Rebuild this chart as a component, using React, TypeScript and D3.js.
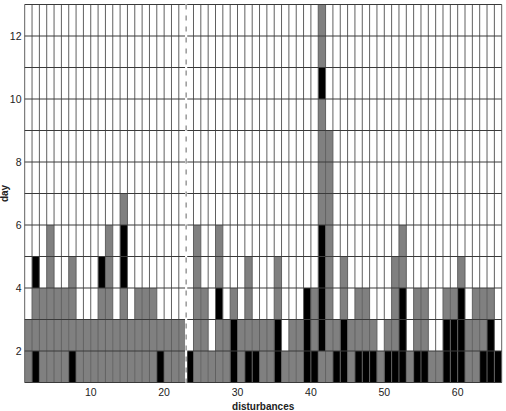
import React from 'react';
import * as d3 from 'd3';

// disturbance index (x categories)
const disturbances = [
  1, 2, 3, 4, 5, 6, 7, 8, 9, 10, 11, 12, 13, 14, 15, 16, 17, 18, 19, 20,
  21, 22, 23, 24, 25, 26, 27, 28, 29, 30, 31, 32, 33, 34, 35, 36, 37, 38, 39, 40,
  41, 42, 43, 44, 45, 46, 47, 48, 49, 50, 51, 52, 53, 54, 55, 56, 57, 58, 59, 60,
  61, 62, 63, 64, 65,
];

// cell states per column, from day 1 upward: g = grey, b = black
const cellStates = [
  'gg', 'bggb', 'ggg', 'ggggg', 'ggg', 'ggg', 'bggg', 'gg', 'gg', 'gg',
  'gggb', 'ggggg', 'gg', 'gggbbg', 'gg', 'ggg', 'ggg', 'ggg', 'bg', 'gg',
  'gg', 'gg', 'b', 'ggggg', 'ggg', 'g', 'ggbgg', 'gg', 'bbg', 'gg',
  'bggg', 'bg', 'gg', 'gg', 'bbgg', 'g', 'gg', 'gg', 'bbb', 'bgg',
  'gbbbbggggbgg', 'gggggggg', 'bg', 'bbgg', 'gg', 'bgg', 'bgg', 'bg', 'g', 'bg',
  'bggg', 'bbbgg', 'g', 'bgg', 'bgg', 'g', 'g', 'bbg', 'bbg', 'bbbg',
  'gg', 'ggg', 'bgg', 'bbg', 'b',
];

const xTicks = [10, 20, 30, 40, 50, 60];
const yTicks = [2, 4, 6, 8, 10, 12];
const xDomain = [1, 66];
const yDomain = [1, 13];
const splitAt = 23;

const W = 506;
const H = 411;
const FONT = "'Liberation Sans', Arial, Helvetica, sans-serif";

export default function App() {
  const x = d3.scaleLinear().domain(xDomain).range([24.7, 501.7]);
  const y = d3.scaleLinear().domain(yDomain).range([382.5, 4.5]);

  const cells: { d: number; day: number; c: string }[] = [];
  disturbances.forEach((d, i) => {
    const s = cellStates[i];
    for (let k = 0; k < s.length; k++) cells.push({ d, day: 1 + k, c: s[k] });
  });

  const vLines = d3.range(xDomain[0], xDomain[1] + 1);
  const hLines = d3.range(yDomain[0], yDomain[1] + 1);

  return (
    <svg
      width={W}
      height={H}
      style={{ position: 'absolute', left: 0, top: 0, background: '#fff' }}
      fontFamily={FONT}
    >
      <rect x={0} y={0} width={W} height={H} fill="#fff" />
      {cells.map((c, i) => (
        <rect
          key={i}
          x={x(c.d)}
          y={y(c.day + 1)}
          width={x(c.d + 1) - x(c.d)}
          height={y(c.day) - y(c.day + 1)}
          fill={c.c === 'b' ? '#000' : '#808080'}
        />
      ))}
      {vLines.map((v) => (
        <line key={'v' + v} x1={x(v)} x2={x(v)} y1={y(yDomain[0])} y2={y(yDomain[1])} stroke="#606060" strokeWidth={1} />
      ))}
      {hLines.map((h) => (
        <line key={'h' + h} x1={x(xDomain[0])} x2={x(xDomain[1])} y1={y(h)} y2={y(h)} stroke="#3a3a3a" strokeWidth={1} />
      ))}
      <line x1={x(splitAt)} x2={x(splitAt)} y1={y(yDomain[0])} y2={y(yDomain[1])} stroke="#fff" strokeWidth={2.2} />
      <line
        x1={x(splitAt)}
        x2={x(splitAt)}
        y1={y(yDomain[1])}
        y2={y(yDomain[0])}
        stroke="#8a8a8a"
        strokeWidth={1.3}
        strokeDasharray="5,6"
      />
      {xTicks.map((t) => (
        <text key={'xt' + t} x={x(t)} y={395.5} fontSize={10.5} textAnchor="middle" fill="#222">
          {t}
        </text>
      ))}
      {yTicks.map((t) => (
        <text key={'yt' + t} x={21.5} y={y(t) + 3.8} fontSize={10.5} textAnchor="end" fill="#222">
          {t}
        </text>
      ))}
      <text x={(x(xDomain[0]) + x(xDomain[1])) / 2} y={409.5} fontSize={10} fontWeight="bold" textAnchor="middle" fill="#222">
        disturbances
      </text>
      <text
        transform={`translate(8, ${(y(yDomain[0]) + y(yDomain[1])) / 2}) rotate(-90)`}
        fontSize={10}
        fontWeight="bold"
        textAnchor="middle"
        fill="#222"
      >
        day
      </text>
    </svg>
  );
}
